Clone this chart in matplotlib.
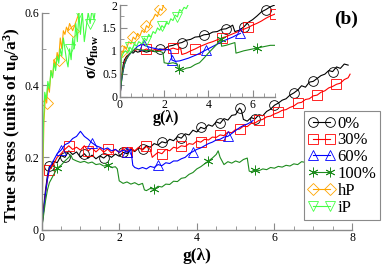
import matplotlib
matplotlib.use("Agg")
import matplotlib.pyplot as plt
from matplotlib.ticker import MultipleLocator

plt.rcParams["font.family"] = ["Liberation Serif", "DejaVu Serif"]
plt.rcParams["mathtext.fontset"] = "custom"
plt.rcParams["mathtext.rm"] = "Liberation Serif:bold"
plt.rcParams["mathtext.it"] = "Liberation Serif:italic:bold"
plt.rcParams["mathtext.bf"] = "Liberation Serif:bold"

# ── Main panel data: true stress vs g(lambda) ────────────────────────────────
g_0 = [0, 0.05, 0.1, 0.15, 0.2, 0.25, 0.3, 0.4, 0.5, 0.6, 0.7, 0.8, 0.9, 1.0, 1.1, 1.2, 1.3, 1.4,
       1.5, 1.6, 1.7, 1.8, 1.9, 2.0, 2.1, 2.2, 2.3, 2.4, 2.5, 2.6, 2.7, 2.8, 2.9, 3.0, 3.1, 3.2,
       3.3, 3.4, 3.5, 3.6, 3.7, 3.8, 3.9, 4.0, 4.1, 4.2, 4.3, 4.4, 4.5, 4.6, 4.7, 4.8, 4.9, 5.0,
       5.1, 5.15, 5.2, 5.3, 5.4, 5.5, 5.6, 5.7, 5.8, 5.9, 6.0, 6.1, 6.2, 6.3, 6.4, 6.5, 6.6, 6.7,
       6.8, 6.9, 7.0, 7.1, 7.2, 7.3, 7.4, 7.5, 7.6, 7.7, 7.8, 7.9]
s_0 = [0, 0.06, 0.11, 0.15, 0.175, 0.17, 0.19, 0.185, 0.205, 0.2, 0.218, 0.208, 0.215, 0.2,
       0.21, 0.198, 0.206, 0.196, 0.204, 0.198, 0.207, 0.2, 0.209, 0.203, 0.214, 0.21, 0.222,
       0.216, 0.226, 0.222, 0.232, 0.228, 0.238, 0.234, 0.243, 0.24, 0.25, 0.246, 0.257, 0.253,
       0.265, 0.262, 0.275, 0.27, 0.283, 0.279, 0.29, 0.286, 0.298, 0.294, 0.307, 0.303, 0.316,
       0.318, 0.336, 0.33, 0.305, 0.3, 0.31, 0.306, 0.318, 0.315, 0.327, 0.333, 0.344, 0.35,
       0.358, 0.362, 0.372, 0.378, 0.386, 0.398, 0.394, 0.408, 0.41, 0.418, 0.426, 0.43, 0.44,
       0.437, 0.45, 0.446, 0.458, 0.455]

g_30 = [0, 0.05, 0.1, 0.15, 0.2, 0.3, 0.4, 0.5, 0.6, 0.7, 0.8, 0.9, 1.0, 1.1, 1.2, 1.3, 1.4, 1.5,
        1.6, 1.7, 1.8, 1.9, 2.0, 2.1, 2.2, 2.3, 2.4, 2.5, 2.6, 2.7, 2.8, 2.85, 2.9, 3.0, 3.1, 3.2,
        3.3, 3.4, 3.5, 3.6, 3.7, 3.8, 3.9, 4.0, 4.1, 4.2, 4.3, 4.4, 4.5, 4.6, 4.7, 4.8, 4.9, 5.0,
        5.1, 5.2, 5.3, 5.4, 5.5, 5.6, 5.7, 5.8, 5.9, 6.0, 6.1, 6.2, 6.3, 6.4, 6.5, 6.6, 6.7, 6.8,
        6.9, 7.0, 7.1, 7.2, 7.3, 7.4, 7.5, 7.6, 7.7, 7.8, 7.9, 7.95]
s_30 = [0, 0.05, 0.1, 0.14, 0.165, 0.18, 0.2, 0.21, 0.222, 0.232, 0.222, 0.228, 0.22, 0.232,
        0.218, 0.226, 0.215, 0.225, 0.214, 0.223, 0.212, 0.222, 0.213, 0.224, 0.216, 0.226,
        0.218, 0.228, 0.22, 0.23, 0.222, 0.2, 0.205, 0.214, 0.21, 0.222, 0.218, 0.228, 0.225,
        0.232, 0.23, 0.238, 0.236, 0.245, 0.242, 0.25, 0.248, 0.256, 0.255, 0.262, 0.26, 0.27,
        0.268, 0.277, 0.278, 0.286, 0.285, 0.294, 0.295, 0.302, 0.305, 0.312, 0.314, 0.32,
        0.324, 0.33, 0.332, 0.338, 0.342, 0.35, 0.352, 0.36, 0.362, 0.37, 0.372, 0.38, 0.384,
        0.392, 0.396, 0.402, 0.405, 0.415, 0.42, 0.43]

g_60 = [0, 0.05, 0.1, 0.15, 0.2, 0.3, 0.4, 0.5, 0.6, 0.7, 0.8, 0.9, 1.0, 1.05, 1.1, 1.2, 1.3,
        1.4, 1.5, 1.6, 1.7, 1.8, 1.9, 2.0, 2.1, 2.2, 2.3, 2.35, 2.4, 2.5, 2.6, 2.7, 2.8, 2.9, 3.0,
        3.1, 3.2, 3.3, 3.4, 3.5, 3.6, 3.7, 3.8, 3.9, 4.0, 4.1, 4.2, 4.3, 4.4, 4.5, 4.6, 4.7, 4.8,
        4.9, 5.0, 5.1, 5.2, 5.3, 5.4, 5.45]
s_60 = [0, 0.05, 0.1, 0.14, 0.17, 0.19, 0.21, 0.22, 0.235, 0.24, 0.252, 0.258, 0.272, 0.265,
        0.258, 0.25, 0.24, 0.232, 0.228, 0.222, 0.226, 0.218, 0.222, 0.214, 0.22, 0.214, 0.222,
        0.178, 0.172, 0.168, 0.172, 0.168, 0.175, 0.172, 0.18, 0.177, 0.185, 0.183, 0.19, 0.19,
        0.196, 0.2, 0.21, 0.216, 0.222, 0.226, 0.232, 0.238, 0.242, 0.248, 0.25, 0.256, 0.258,
        0.266, 0.274, 0.282, 0.288, 0.292, 0.298, 0.302]

g_100 = [0, 0.05, 0.1, 0.15, 0.2, 0.3, 0.4, 0.5, 0.6, 0.7, 0.75, 0.8, 0.9, 1.0, 1.1, 1.2, 1.3,
         1.4, 1.5, 1.6, 1.7, 1.8, 1.9, 1.95, 2.0, 2.1, 2.2, 2.3, 2.4, 2.5, 2.6, 2.65, 2.7, 2.8,
         2.9, 3.0, 3.1, 3.2, 3.3, 3.4, 3.5, 3.6, 3.7, 3.8, 3.9, 4.0, 4.1, 4.2, 4.3, 4.4, 4.5,
         4.55, 4.6, 4.7, 4.8, 4.9, 5.0, 5.1, 5.2, 5.3, 5.35, 5.4, 5.5, 5.6, 5.7, 5.8, 5.9, 6.0,
         6.1, 6.2, 6.3, 6.4, 6.5, 6.6, 6.7, 6.8, 6.9]
s_100 = [0, 0.04, 0.08, 0.11, 0.13, 0.15, 0.17, 0.178, 0.19, 0.2, 0.207, 0.195, 0.19, 0.186,
         0.189, 0.184, 0.187, 0.18, 0.182, 0.176, 0.178, 0.172, 0.174, 0.168, 0.135, 0.128,
         0.132, 0.126, 0.13, 0.124, 0.128, 0.11, 0.108, 0.114, 0.112, 0.12, 0.118, 0.126, 0.125,
         0.134, 0.133, 0.142, 0.144, 0.153, 0.158, 0.168, 0.174, 0.182, 0.19, 0.198, 0.208,
         0.218, 0.2, 0.18, 0.188, 0.184, 0.19, 0.186, 0.194, 0.198, 0.162, 0.16, 0.166, 0.163,
         0.168, 0.166, 0.172, 0.17, 0.175, 0.173, 0.178, 0.176, 0.182, 0.18, 0.188, 0.186, 0.19]

g_hp = [0, 0.03, 0.06, 0.1, 0.13, 0.16, 0.2, 0.24, 0.28, 0.32, 0.36, 0.4, 0.44, 0.48, 0.52,
        0.56, 0.6, 0.64, 0.68, 0.72, 0.8, 0.9, 1.0]
s_hp = [0, 0.15, 0.3, 0.37, 0.35, 0.4, 0.38, 0.44, 0.42, 0.47, 0.45, 0.49, 0.47, 0.53, 0.5,
        0.55, 0.54, 0.56, 0.55, 0.57, 0.55, 0.58, 0.61]

g_ip = [0, 0.02, 0.05, 0.08, 0.12, 0.16, 0.2, 0.24, 0.28, 0.32, 0.36, 0.4, 0.44, 0.48, 0.52,
        0.56, 0.6, 0.64, 0.68, 0.72, 0.76, 0.8, 0.84, 0.88, 0.92, 0.96, 1.0, 1.05, 1.1, 1.15,
        1.2, 1.25, 1.3, 1.35, 1.4]
s_ip = [0, 0.15, 0.3, 0.38, 0.36, 0.41, 0.39, 0.44, 0.42, 0.46, 0.44, 0.48, 0.46, 0.5, 0.48,
        0.53, 0.5, 0.47, 0.45, 0.5, 0.47, 0.53, 0.5, 0.57, 0.52, 0.6, 0.54, 0.6, 0.52, 0.56,
        0.6, 0.57, 0.61, 0.58, 0.62]

# ── Inset data: sigma / sigma_flow vs g(lambda) ──────────────────────────────
gi_0 = [0, 0.05, 0.1, 0.15, 0.2, 0.3, 0.4, 0.5, 0.6, 0.7, 0.8, 1.0, 1.2, 1.4, 1.6, 1.8, 2.0,
        2.2, 2.4, 2.6, 2.8, 3.0, 3.2, 3.4, 3.6, 3.8, 4.0, 4.2, 4.4, 4.6, 4.8, 5.0, 5.1, 5.2,
        5.4, 5.6, 5.8, 6.0, 6.2, 6.4, 6.6, 6.8, 7.0]
si_0 = [0, 0.3, 0.55, 0.7, 0.8, 0.88, 0.92, 0.97, 0.95, 1.0, 0.97, 1.0, 0.97, 1.0, 0.98, 1.04,
        1.03, 1.1, 1.12, 1.16, 1.18, 1.23, 1.25, 1.3, 1.31, 1.35, 1.36, 1.41, 1.42, 1.47, 1.48,
        1.53, 1.56, 1.42, 1.45, 1.52, 1.62, 1.68, 1.76, 1.85, 1.9, 1.96, 2.0]

gi_30 = [0, 0.05, 0.1, 0.2, 0.3, 0.4, 0.5, 0.6, 0.8, 1.0, 1.2, 1.4, 1.6, 1.8, 2.0, 2.2, 2.4,
         2.6, 2.75, 2.8, 3.0, 3.2, 3.4, 3.6, 3.8, 4.0, 4.2, 4.4, 4.6, 4.8, 5.0, 5.2, 5.4, 5.6,
         5.8, 6.0, 6.2, 6.4, 6.6, 6.8, 7.0]
si_30 = [0, 0.25, 0.5, 0.75, 0.85, 0.92, 0.97, 1.0, 1.03, 1.0, 1.04, 1.0, 1.03, 1.0, 1.04,
         1.02, 1.06, 1.03, 1.05, 0.92, 0.95, 1.0, 1.04, 1.09, 1.13, 1.17, 1.2, 1.24, 1.28, 1.31,
         1.35, 1.39, 1.43, 1.47, 1.51, 1.56, 1.6, 1.65, 1.71, 1.76, 1.8]

gi_60 = [0, 0.05, 0.1, 0.2, 0.3, 0.4, 0.5, 0.6, 0.7, 0.8, 0.9, 1.0, 1.1, 1.2, 1.4, 1.6, 1.8,
         2.0, 2.2, 2.3, 2.35, 2.5, 2.7, 2.9, 3.1, 3.3, 3.5, 3.7, 3.9, 4.1, 4.3, 4.5, 4.7, 4.9,
         5.1, 5.3, 5.45]
si_60 = [0, 0.25, 0.45, 0.7, 0.82, 0.9, 0.96, 1.0, 1.05, 1.1, 1.12, 1.16, 1.12, 1.1, 1.07,
         1.05, 1.03, 1.02, 1.03, 1.0, 0.8, 0.77, 0.78, 0.81, 0.84, 0.88, 0.92, 0.97, 1.02, 1.07,
         1.12, 1.17, 1.22, 1.26, 1.3, 1.35, 1.38]

gi_100 = [0, 0.05, 0.1, 0.2, 0.3, 0.4, 0.5, 0.6, 0.7, 0.8, 1.0, 1.2, 1.4, 1.6, 1.8, 1.95, 2.0,
          2.2, 2.4, 2.6, 2.65, 2.8, 3.0, 3.2, 3.4, 3.6, 3.8, 4.0, 4.2, 4.4, 4.55, 4.6, 4.8, 5.0,
          5.2, 5.25, 5.4, 5.6, 5.8, 6.0, 6.2, 6.4, 6.6, 6.8, 7.0]
si_100 = [0, 0.25, 0.45, 0.7, 0.82, 0.9, 0.96, 1.0, 1.05, 1.03, 1.02, 1.0, 1.02, 0.98, 0.99,
          0.96, 0.74, 0.72, 0.74, 0.71, 0.6, 0.58, 0.62, 0.64, 0.7, 0.74, 0.84, 0.95, 1.05, 1.15,
          1.25, 1.1, 1.12, 1.15, 1.18, 0.95, 0.97, 1.0, 1.02, 1.04, 1.06, 1.08, 1.1, 1.12, 1.12]

gi_hp = [0, 0.03, 0.06, 0.1, 0.15, 0.2, 0.3, 0.4, 0.5, 0.6, 0.7, 0.8, 0.9, 1.0, 1.1, 1.2, 1.3,
         1.4, 1.5, 1.6, 1.7, 1.8, 1.9, 2.0]
si_hp = [0, 0.5, 0.9, 1.0, 0.95, 1.1, 1.05, 1.2, 1.15, 1.3, 1.25, 1.38, 1.32, 1.45, 1.4, 1.55,
         1.5, 1.65, 1.7, 1.8, 1.75, 1.92, 1.88, 2.05]

gi_ip = [0, 0.03, 0.07, 0.15, 0.25, 0.35, 0.45, 0.55, 0.65, 0.75, 0.85, 1.0, 1.1, 1.2, 1.3,
         1.4, 1.5, 1.6, 1.7, 1.8, 1.9, 2.0, 2.1, 2.2, 2.3, 2.4, 2.5, 2.6, 2.7, 2.8, 2.9, 3.0,
         3.1, 3.2]
si_ip = [0, 0.5, 0.85, 0.95, 1.0, 0.95, 1.08, 1.02, 1.15, 1.1, 1.2, 1.15, 1.28, 1.22, 1.36,
         1.3, 1.42, 1.38, 1.5, 1.45, 1.55, 1.5, 1.62, 1.58, 1.7, 1.66, 1.78, 1.74, 1.9, 1.86,
         1.95, 1.92, 2.02, 2.05]

labels = ["0%", "30%", "60%", "100%", "hP", "iP"]
# ─────────────────────────────────────────────────────────────────────────────

COLORS  = ["black", "#ff0000", "#0000ff", "#1e8c1e", "#ffa500", "#44ff44"]
MARKERS = ["o", "s", "^", (6, 2, 0), "D", "v"]
MSIZE   = [7, 7, 7, 7, 6, 7]

main_sets  = [(g_0, s_0), (g_30, s_30), (g_60, s_60), (g_100, s_100), (g_hp, s_hp), (g_ip, s_ip)]
inset_sets = [(gi_0, si_0), (gi_30, si_30), (gi_60, si_60), (gi_100, si_100), (gi_hp, si_hp), (gi_ip, si_ip)]
main_every = [(4, 5), (4, 5), (7, 9), (6, 14), (4, 8), (19, 6)]
inset_every = [(15, 5), (10, 6), (12, 8), (20, 10), (3, 6), (6, 7)]

GRAY = "#8a8a8a"


def style_axes(ax):
    for side in ("top", "right"):
        ax.spines[side].set_visible(False)
    for side in ("left", "bottom"):
        ax.spines[side].set_color(GRAY)
        ax.spines[side].set_linewidth(1.0)
    ax.tick_params(which="both", direction="in", color=GRAY, labelsize=8.5, pad=2)
    ax.tick_params(which="major", length=5)
    ax.tick_params(which="minor", length=3)


fig = plt.figure(figsize=(3.82, 2.64), dpi=100)
ax = fig.add_axes([0.109, 0.13, 0.8125, 0.822])

handles = []
for (g, s), c, m, ms, me, lab in zip(main_sets, COLORS, MARKERS, MSIZE, main_every, labels):
    ln, = ax.plot(g, s, color=c, lw=0.8, marker=m, ms=ms, mfc="none", mec=c, mew=0.6,
                  markevery=me, label=lab)
    handles.append(ln)

ax.set_xlim(0, 8)
ax.set_ylim(0, 0.6)
ax.set_xticks([0, 2, 4, 6, 8])
ax.set_yticks([0, 0.2, 0.4, 0.6])
ax.set_yticklabels(["0", "0.2", "0.4", "0.6"])
ax.xaxis.set_minor_locator(MultipleLocator(0.5))
ax.yaxis.set_minor_locator(MultipleLocator(0.1))
style_axes(ax)
ax.set_xlabel("g(λ)", fontsize=12.5, fontweight="bold")
ax.xaxis.set_label_coords(0.5, -0.085)
ax.set_ylabel(r"True stress (units of u$_\mathrm{0}$/a$^\mathrm{3}$)", fontsize=12.5,
              fontweight="bold")
ax.yaxis.set_label_coords(-0.06, 0.48)

fig.text(0.906, 0.928, "(b)", fontsize=14, fontweight="bold", ha="center", va="center")

leg = fig.legend(handles=handles, loc="lower left", bbox_to_anchor=(0.796, 0.167),
                 bbox_transform=fig.transFigure, borderaxespad=0, numpoints=2,
                 fontsize=12, labelspacing=0.05, handlelength=1.6, handletextpad=0.15,
                 borderpad=0.25, fancybox=False, framealpha=1)
leg.get_frame().set_edgecolor(GRAY)
leg.get_frame().set_linewidth(0.8)

# ── Inset ─────────────────────────────────────────────────────────────────────
ax_in = fig.add_axes([0.314, 0.634, 0.405, 0.347])
for (g, s), c, m, ms, me in zip(inset_sets, COLORS, MARKERS, MSIZE, inset_every):
    ax_in.plot(g, s, color=c, lw=0.8, marker=m, ms=ms, mfc="none", mec=c, mew=0.6,
               markevery=me)
ax_in.set_xlim(0, 7)
ax_in.set_ylim(0, 2)
ax_in.set_xticks([0, 2, 4, 6])
ax_in.set_yticks([0, 0.5, 1, 1.5, 2])
ax_in.set_yticklabels(["0", "0.5", "1", "1.5", "2"])
ax_in.xaxis.set_minor_locator(MultipleLocator(0.5))
ax_in.yaxis.set_minor_locator(MultipleLocator(0.25))
style_axes(ax_in)
ax_in.set_xlabel("g(λ)", fontsize=11.5, fontweight="bold")
ax_in.xaxis.set_label_coords(0.297, -0.15)
ax_in.set_ylabel(r"$\mathrm{σ/σ_{flow}}$", fontsize=11.5)
ax_in.yaxis.set_label_coords(-0.12, 0.43)

fig.savefig("out.png", dpi=100)
